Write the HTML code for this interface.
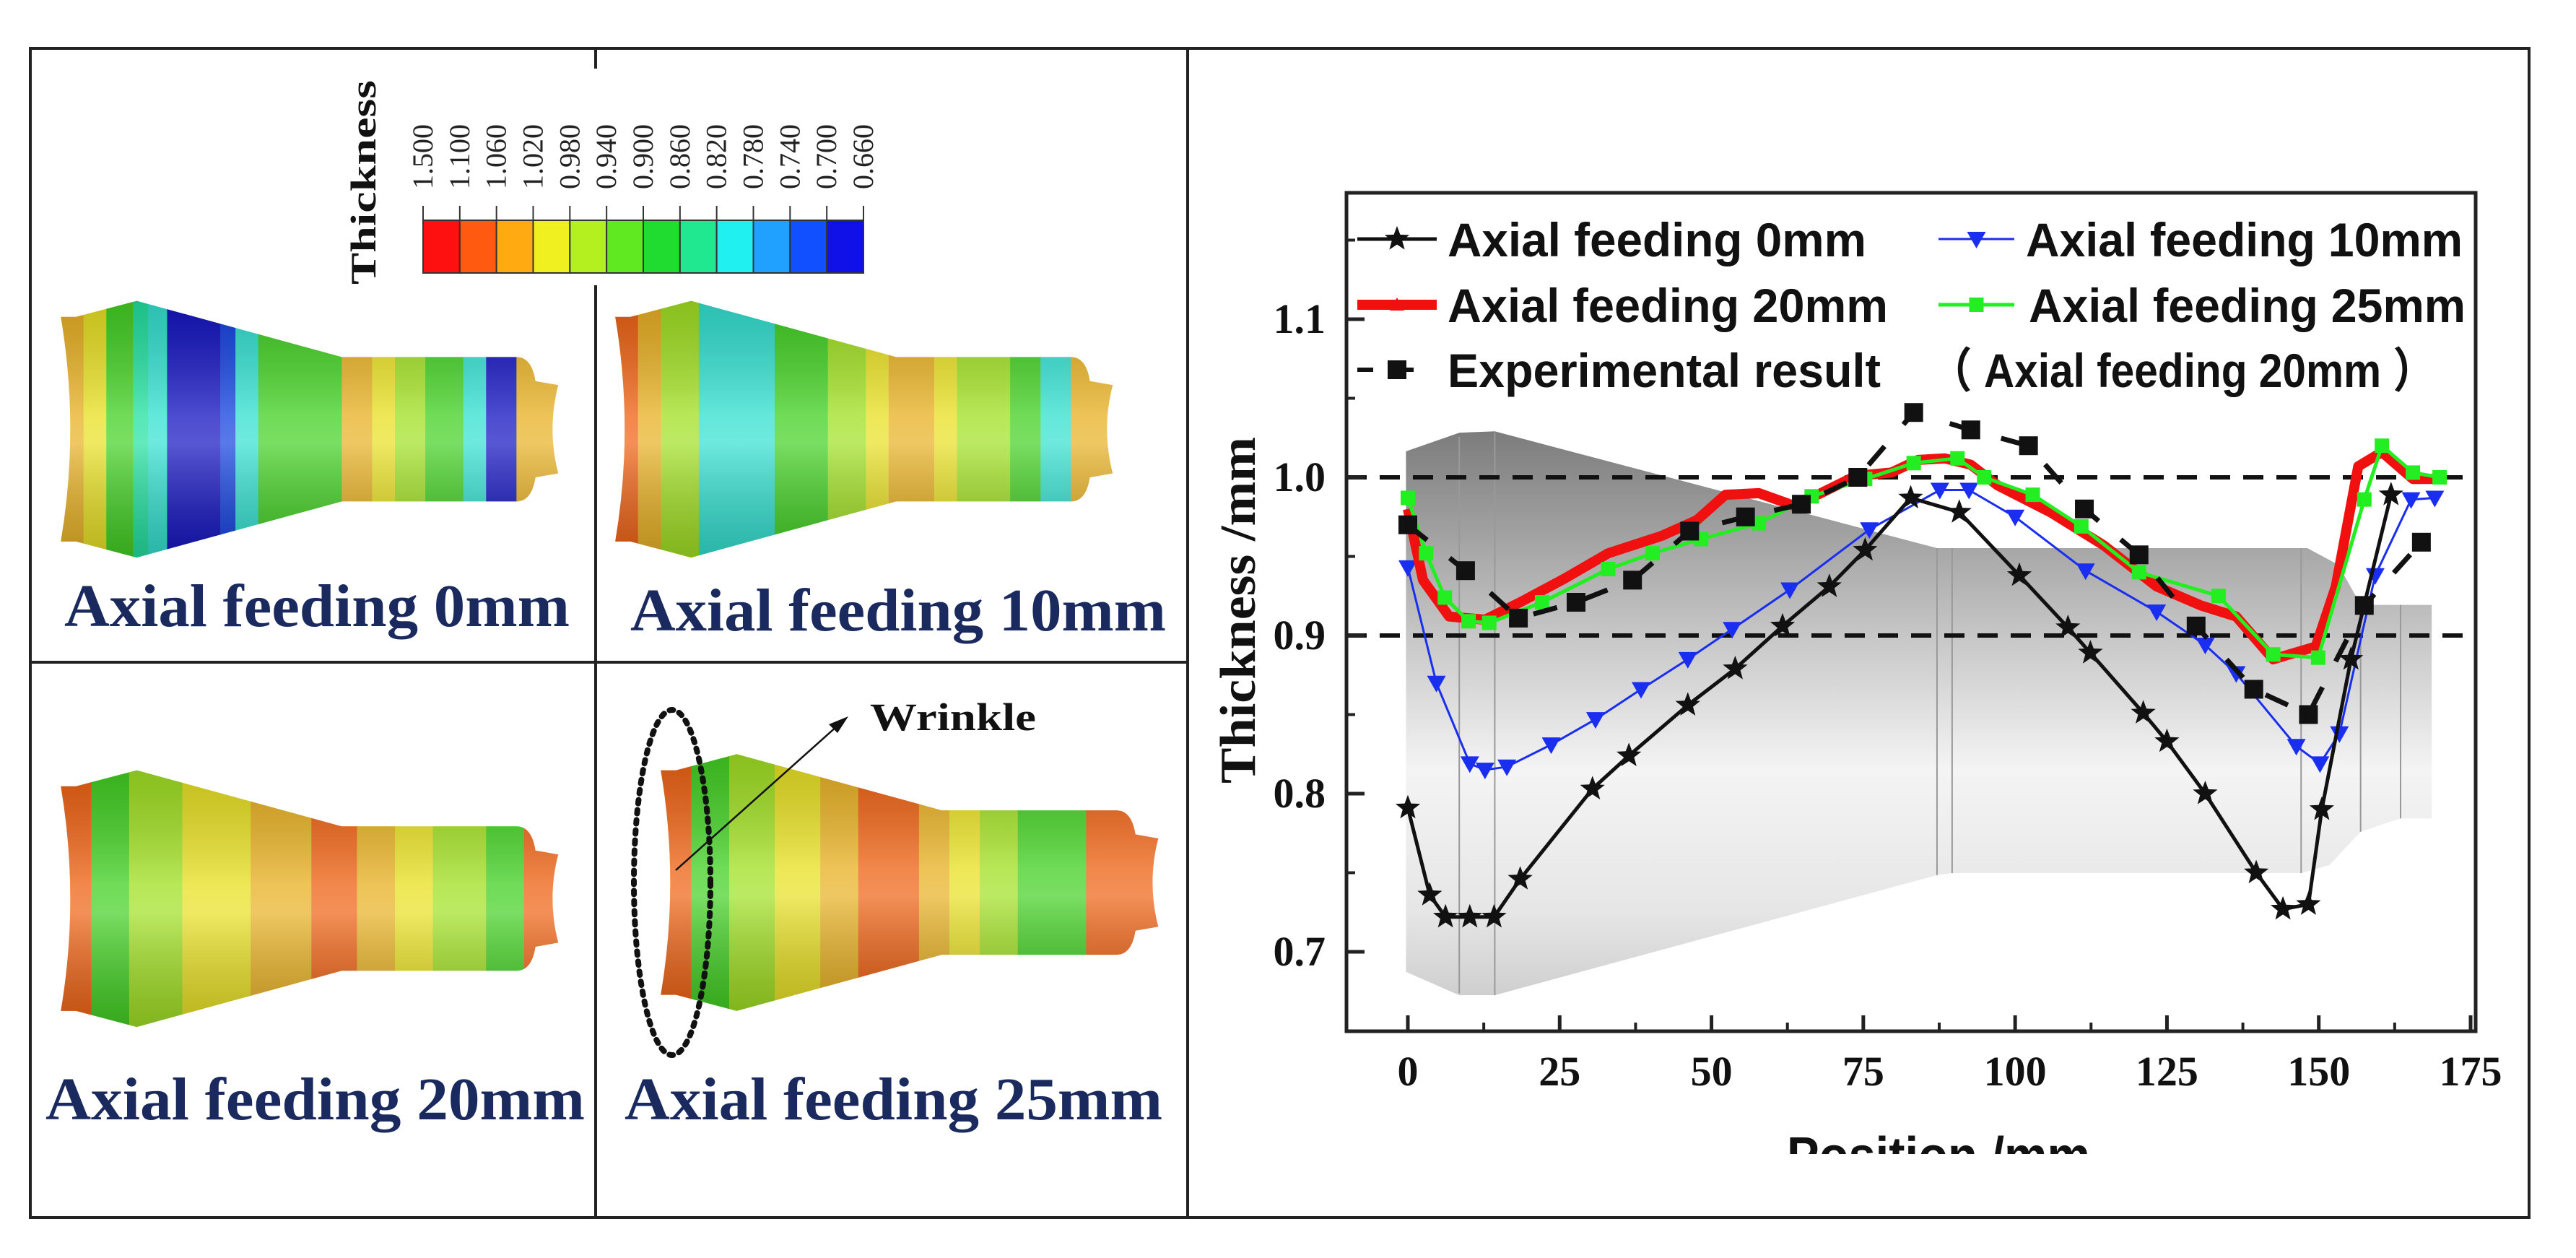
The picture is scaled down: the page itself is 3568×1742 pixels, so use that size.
<!DOCTYPE html>
<html><head><meta charset="utf-8"><style>
html,body{margin:0;padding:0;background:#fff;}
svg{display:block;}
</style></head><body>
<svg id="fig" width="3568" height="1742" viewBox="0 0 3568 1742" xmlns="http://www.w3.org/2000/svg">
<defs>
<linearGradient id="silGrad" x1="0" y1="0" x2="0" y2="1">
<stop offset="0" stop-color="#7c7c7c"/><stop offset="0.35" stop-color="#c4c4c4"/><stop offset="0.6" stop-color="#f4f4f4"/><stop offset="0.85" stop-color="#e6e6e6"/><stop offset="1" stop-color="#cfcfcf"/>
</linearGradient>
<linearGradient id="shade" x1="0" y1="0" x2="0" y2="1">
<stop offset="0" stop-color="#000" stop-opacity="0.15"/><stop offset="0.45" stop-color="#fff" stop-opacity="0.25"/><stop offset="0.55" stop-color="#fff" stop-opacity="0.3"/><stop offset="1" stop-color="#000" stop-opacity="0.2"/>
</linearGradient>
</defs>
<rect x="0" y="0" width="3568" height="1742" fill="#fff"/>
<g id="frame" stroke="#222" stroke-width="4" fill="none">
<rect x="42" y="67" width="3461" height="1619"/>
<line x1="1645" y1="67" x2="1645" y2="1686"/>
<line x1="42" y1="917" x2="1645" y2="917"/>
<line x1="825" y1="67" x2="825" y2="1686"/>
</g>
<g id="tubes"></g>
<g id="cbar"></g>
<g id="chart"></g>
</svg>
<script>
const NS='http://www.w3.org/2000/svg';
function mk(tag,attrs,parent){const e=document.createElementNS(NS,tag);for(const k in attrs)e.setAttribute(k,attrs[k]);if(parent)parent.appendChild(e);return e;}

// ---------- chart data ----------
const xTicks=[0,25,50,75,100,125,150,175];
const yTicks=[0.7,0.8,0.9,1.0,1.1];
const s0x=[0,3.6,6.2,10.2,14.2,18.5,30.4,36.4,46.1,53.9,61.7,69.4,75.3,82.8,90.8,100.7,108.7,112.4,121.1,125,131.3,139.7,144.1,148.3,150.5,155.3,161.9];
const s0y=[0.791,0.736,0.722,0.722,0.722,0.746,0.803,0.824,0.856,0.879,0.906,0.931,0.954,0.987,0.978,0.938,0.905,0.889,0.851,0.833,0.800,0.750,0.727,0.730,0.790,0.885,0.989];
const s10x=[0,4.7,10.2,12.7,16.3,23.6,30.9,38.4,46.1,53.4,62.9,76,87.6,92.4,100,111.6,123.3,131.3,136.4,146.3,150.2,153.4,159.3,165.2,169.1];
const s10y=[0.943,0.870,0.819,0.815,0.817,0.831,0.847,0.866,0.885,0.904,0.929,0.967,0.992,0.992,0.975,0.941,0.915,0.894,0.876,0.830,0.819,0.838,0.938,0.986,0.987];
const s20x=[0,2.5,6.8,12.7,18.5,25.8,33,41.8,47.6,52.3,57.8,63.6,68,73.8,79.6,84,88.4,92.7,97.1,105.8,114.6,123.3,130.6,136.4,142.5,149.5,152.8,156.5,160.4,165.5,169.9];
const s20y=[0.980,0.935,0.912,0.910,0.921,0.936,0.952,0.963,0.973,0.989,0.990,0.982,0.990,1.001,1.003,1.011,1.012,1.008,0.995,0.978,0.957,0.931,0.919,0.912,0.885,0.893,0.931,1.007,1.016,0.999,0.999];
const s25x=[0,3,6.1,10,13.4,22.1,33,40.3,48.3,57.8,66.5,75.3,83.3,90.5,94.9,102.9,110.9,120.4,133.5,142.5,149.9,157.5,160.4,165.5,169.9];
const s25y=[0.987,0.952,0.924,0.909,0.908,0.921,0.942,0.952,0.961,0.971,0.988,0.999,1.009,1.012,1.000,0.989,0.969,0.940,0.925,0.888,0.886,0.986,1.020,1.003,1.000];
const expx=[0,9.5,18.2,27.7,37,46.4,55.6,64.8,74.1,83.3,92.7,102.2,111.4,120.4,129.8,139.3,148.3,157.5,166.9];
const expy=[0.970,0.941,0.911,0.921,0.935,0.966,0.975,0.983,1.000,1.041,1.030,1.020,0.980,0.951,0.906,0.866,0.850,0.919,0.959];
const refLines=[1.0,0.9];

const PL=1865,PR=3429,PT=267,PB=1428;
function xS(v){return 1950+v*(3422-1950)/175;}
function yS(v){return 661-(v-1.0)*2190;}
// silhouette decoration coords (image pixels from reference plot, not data)
function DX(d){return 1865+(d-183)*1.23;}
function DY(d){return 200+d*0.924;}

const chart=document.getElementById('chart');
// silhouette background
const silPts=[[250,460],[310,432],[350,430],[848,605],[1265,605],[1300,630],[1325,690],[1405,690],[1405,1010],[1370,1010],[1325,1030],[1290,1080],[1258,1092],[865,1092],[848,1095],[350,1275],[310,1275],[250,1240]];
const sil=mk('path',{d:'M'+silPts.map(p=>DX(p[0]).toFixed(1)+','+DY(p[1]).toFixed(1)).join(' L')+' Z',fill:'url(#silGrad)',stroke:'none'},chart);


[[310,438,1272],[350,432,1275],[848,605,1095],[865,605,1092],[1258,605,1092],[1325,690,1030],[1370,690,1010]].forEach(s=>{
 mk('line',{x1:DX(s[0]),y1:DY(s[1]),x2:DX(s[0]),y2:DY(s[2]),stroke:'#999','stroke-width':2},chart);
});
// reference dashed lines
refLines.forEach(v=>{
 const l=mk('line',{x1:PL,x2:PR,y1:yS(v),y2:yS(v),stroke:'#111','stroke-width':6,'stroke-dasharray':'28 18'},chart);
 
 
});
// axes box
const box=mk('rect',{x:PL,y:PT,width:PR-PL,height:PB-PT,fill:'none',stroke:'#222','stroke-width':5},chart);


xTicks.forEach((v,i)=>{
 mk('line',{x1:xS(v),x2:xS(v),y1:PB,y2:PB-22,stroke:'#222','stroke-width':5},chart);
 if(i<xTicks.length-1){const m=(v+xTicks[i+1])/2;mk('line',{x1:xS(m),x2:xS(m),y1:PB,y2:PB-12,stroke:'#222','stroke-width':4},chart);}
 const t=mk('text',{x:xS(v),y:1503,'text-anchor':'middle','font-family':'"Liberation Serif",serif','font-weight':'bold','font-size':58,fill:'#111'},chart);
 t.textContent=v;
 
 
});
yTicks.forEach(v=>{
 mk('line',{x1:PL,x2:PL+25,y1:yS(v),y2:yS(v),stroke:'#222','stroke-width':5},chart);
 mk('line',{x1:PL,x2:PL+12,y1:yS(v+0.05),y2:yS(v+0.05),stroke:'#222','stroke-width':4},chart);
 const t=mk('text',{x:1836,y:yS(v)+19,'text-anchor':'end','font-family':'"Liberation Serif",serif','font-weight':'bold','font-size':58,fill:'#111'},chart);
 t.textContent=v.toFixed(1);
 
 
});
mk('line',{x1:PL,x2:PL+12,y1:yS(0.65),y2:yS(0.65),stroke:'#222','stroke-width':4},chart);
const yt=mk('text',{x:0,y:0,transform:'translate(1738,845) rotate(-90)','text-anchor':'middle','font-family':'"Liberation Serif",serif','font-weight':'bold','font-size':70,fill:'#111',textLength:480,lengthAdjust:'spacingAndGlyphs'},chart);
yt.textContent='Thickness /mm';


const xt=mk('text',{x:2685,y:1625,'text-anchor':'middle','font-family':'"Liberation Sans",sans-serif','font-weight':'bold','font-size':72,fill:'#111',textLength:420,lengthAdjust:'spacingAndGlyphs'},chart);
xt.textContent='Position /mm';


mk('rect',{x:1650,y:1598,width:1850,height:85,fill:'#fff'},chart);

function starPath(cx,cy,r){let d='';for(let i=0;i<10;i++){const a=-Math.PI/2+i*Math.PI/5;const rr=i%2?r*0.42:r;d+=(i?'L':'M')+(cx+rr*Math.cos(a)).toFixed(1)+','+(cy+rr*Math.sin(a)).toFixed(1);}return d+'Z';}
function marker(type,cx,cy,color,g){
 if(type==='star')return mk('path',{d:starPath(cx,cy,18),fill:color},g);
 if(type==='tdown')return mk('path',{d:`M${cx-13},${cy-10}L${cx+13},${cy-10}L${cx},${cy+13}Z`,fill:color},g);
 if(type==='tup')return mk('path',{d:`M${cx-10},${cy+8}L${cx+10},${cy+8}L${cx},${cy-10}Z`,fill:color},g);
 if(type==='sq')return mk('rect',{x:cx-10,y:cy-10,width:20,height:20,fill:color},g);
 if(type==='bsq')return mk('rect',{x:cx-13,y:cy-13,width:26,height:26,fill:color},g);
}
function series(name,xs,ys,color,w,mtype,dash){
 const g=mk('g',{},chart);
 
 
 const p=mk('polyline',{points:xs.map((x,i)=>xS(x).toFixed(1)+','+yS(ys[i]).toFixed(1)).join(' '),fill:'none',stroke:color,'stroke-width':w,'stroke-linejoin':'round'},g);
 if(dash)p.setAttribute('stroke-dasharray',dash);
 
 
 if(mtype)xs.forEach((x,i)=>{const m=marker(mtype,xS(x),yS(ys[i]),color,g);
  
  });
}
series('series-10mm',s10x,s10y,'#1a2ef0',3,'tdown');
series('series-0mm',s0x,s0y,'#111',5,'star');
series('series-20mm',s20x,s20y,'#f01010',14,null);
series('series-25mm',s25x,s25y,'#22ee22',5,'sq');
series('series-experimental',expx,expy,'#111',7,'bsq','34 40');

// legend
const leg=mk('g',{},chart);


const legItems=[
 ['Axial feeding 0mm',1880,1990,2005,331,'#111',5,'star',null,580],
 ['Axial feeding 10mm',2685,2790,2806,331,'#1a2ef0',3,'tdown',null,605],
 ['Axial feeding 20mm',1880,1990,2005,422,'#f01010',14,'tup',null,610],
 ['Axial feeding 25mm',2685,2790,2810,422,'#22ee22',5,'sq',null,605],
 ['Experimental result',1880,1990,2005,512,'#111',6,'bsq','22 34',600]
];
legItems.forEach(it=>{
 const g=mk('g',{},leg);
 
 
 const l=mk('line',{x1:it[1],x2:it[2],y1:it[4],y2:it[4],stroke:it[5],'stroke-width':it[6]},g);
 if(it[8])l.setAttribute('stroke-dasharray',it[8]);
 marker(it[7],(it[1]+it[2])/2,it[4],it[5],g);
 const t=mk('text',{x:it[3],y:it[4]+24,'font-family':'"Liberation Sans",sans-serif','font-weight':'bold','font-size':66,fill:'#111',textLength:it[9],lengthAdjust:'spacingAndGlyphs'},g);
 t.textContent=it[0];
});
const lt=mk('text',{x:2673,y:536,'font-family':'"Liberation Sans","Noto Sans CJK SC",sans-serif','font-weight':'bold','font-size':66,fill:'#111',textLength:700,lengthAdjust:'spacingAndGlyphs'},leg);
lt.textContent='（ Axial feeding 20mm ）';



// ---------- colorbar ----------
const cb=document.getElementById('cbar');
mk('rect',{x:520,y:95,width:700,height:300,fill:'#fff'},cb);
const cbColors=['#ff1010','#ff5a10','#ffaa10','#f0f020','#b4f020','#60e820','#20dc30','#20e890','#20f0f0','#20a0ff','#1050ff','#1010e8'];
const cbLabels=['1.500','1.100','1.060','1.020','0.980','0.940','0.900','0.860','0.820','0.780','0.740','0.700','0.660'];
const cx0=586,cw=(1196-586)/12;
cbColors.forEach((c,i)=>{const r=mk('rect',{x:cx0+i*cw,y:305,width:cw,height:73,fill:c,stroke:'#333','stroke-width':2},cb);
 
 });
cbLabels.forEach((s,i)=>{const x=cx0+i*cw;mk('line',{x1:x,x2:x,y1:285,y2:305,stroke:'#333','stroke-width':2},cb);
 const t=mk('text',{transform:`translate(${x+13},262) rotate(-90)`,'font-family':'"Liberation Serif",serif','font-size':40,fill:'#222'},cb);t.textContent=s;
 
 });
const ct=mk('text',{transform:'translate(520,394) rotate(-90)','font-family':'"Liberation Serif",serif','font-weight':'bold','font-size':50,fill:'#111',textLength:283,lengthAdjust:'spacingAndGlyphs'},cb);
ct.textContent='Thickness';



// ---------- tube renders ----------
const tg=document.getElementById('tubes');
function tube(name,ox,oy,stripes,title,tx,ty,tlen){
 const g=mk('g',{},tg);
 
 
 // shape in local display coords, centre y=0
 const sx=1.052,sy=1.111;
 const P=(x,y)=>((ox+x)*sx).toFixed(1)+','+((oy+y)*sy).toFixed(1);
 const d='M'+P(0,-140)+' Q'+P(25,0)+' '+P(0,140)+' L'+P(20,140)+' L'+P(100,160)+' L'+P(370,90)+' L'+P(600,90)+' Q'+P(620,90)+' '+P(625,60)+' L'+P(655,55)+' Q'+P(640,0)+' '+P(655,-55)+' L'+P(625,-60)+' Q'+P(620,-90)+' '+P(600,-90)+' L'+P(370,-90)+' L'+P(100,-160)+' L'+P(20,-140)+' Z';
 const cid='clip-'+name;
 const cp=mk('clipPath',{id:cid},tg);mk('path',{d:d},cp);
 const sg=mk('g',{'clip-path':`url(#${cid})`},g);
 stripes.forEach(s=>{mk('rect',{x:(ox+s[0])*sx,y:(oy-170)*sy,width:(s[1]-s[0])*sx+1,height:340*sy,fill:s[2]},sg);});
 mk('rect',{x:ox*sx,y:(oy-170)*sy,width:660*sx,height:340*sy,fill:'url(#shade)'},sg);
 const t=mk('text',{x:tx,y:ty,'font-family':'"Liberation Serif",serif','font-weight':'bold','font-size':84,fill:'#1a2a5e',textLength:tlen,lengthAdjust:'spacingAndGlyphs'},g);
 t.textContent=title;
 
 
}
const O='#ee6010',Y='#e8e020',G='#40d020',L='#a0e020',A='#e8b020',C='#30e0d0',B='#1040e0',DB='#1010c0',T='#20e0a0';
tube('tube-0mm',80,535,[[0,30,A],[30,60,Y],[60,95,G],[95,115,T],[115,140,C],[140,210,DB],[210,230,B],[230,260,C],[260,370,G],[370,410,A],[410,440,Y],[440,480,L],[480,530,G],[530,560,C],[560,600,DB],[600,660,A]],'Axial feeding 0mm',89,867,700);
tube('tube-10mm',810,535,[[0,30,O],[30,60,A],[60,110,L],[110,210,C],[210,280,G],[280,330,L],[330,360,Y],[360,420,A],[420,450,Y],[450,520,L],[520,560,G],[560,600,C],[600,660,A]],'Axial feeding 10mm',873,873,742);
tube('tube-20mm',80,1120,[[0,40,O],[40,90,G],[90,160,L],[160,250,Y],[250,330,A],[330,390,O],[390,440,A],[440,490,Y],[490,560,L],[560,610,G],[610,660,O]],'Axial feeding 20mm',63,1550,747);
tube('tube-25mm',870,1100,[[0,40,O],[40,90,G],[90,150,L],[150,210,Y],[210,260,A],[260,340,O],[340,380,A],[380,420,Y],[420,470,L],[470,560,G],[560,660,O]],'Axial feeding 25mm',865,1550,745);
// wrinkle annotation
const wg=mk('g',{},tg);


mk('ellipse',{cx:931,cy:1222,rx:53,ry:239,fill:'none',stroke:'#111','stroke-width':8,'stroke-dasharray':'5 9','stroke-linecap':'round'},wg);
mk('line',{x1:936,y1:1205,x2:1160,y2:1005,stroke:'#111','stroke-width':2.5},wg);
mk('path',{d:'M1175,992 L1148,1003 L1160,1015 Z',fill:'#111'},wg);
const wt=mk('text',{x:1205,y:1011,'font-family':'"Liberation Serif",serif','font-weight':'bold','font-size':54,fill:'#111',textLength:230,lengthAdjust:'spacingAndGlyphs'},wg);
wt.textContent='Wrinkle';
</script>
</body></html>
